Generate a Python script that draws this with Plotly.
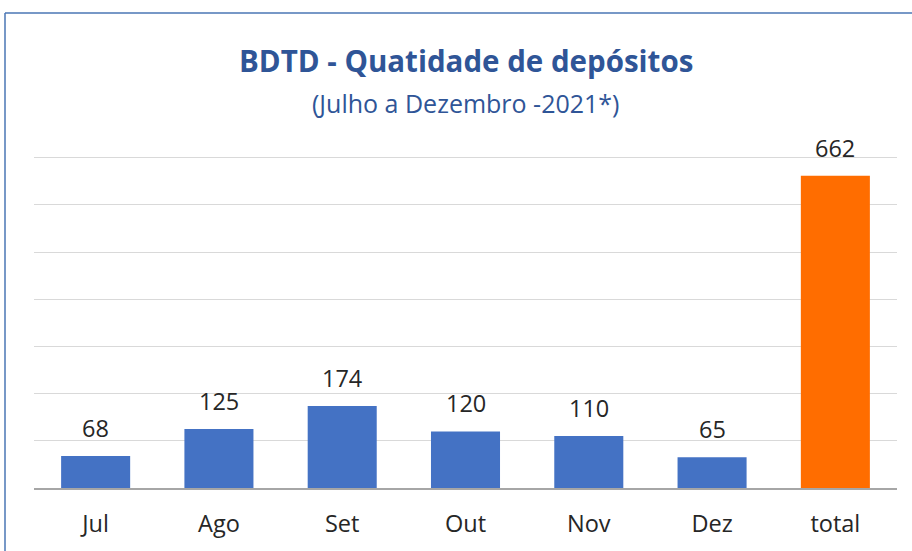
import plotly.graph_objects as go

categories = ["Jul", "Ago", "Set", "Out", "Nov", "Dez", "total"]
values = [68, 125, 174, 120, 110, 65, 662]
colors = ["#4472C4"] * 6 + ["#FF6D00"]

FONT = "Open Sans, Lato, sans-serif"

fig = go.Figure(go.Bar(
    x=categories, y=values, marker=dict(color=colors, line=dict(width=0)),
    textposition="none", hoverinfo="x+y",
))

label_annotations = [
    dict(x=c, y=v, xref="x", yref="y", text=str(v), showarrow=False,
         yanchor="middle", yshift=28,
         font=dict(family=FONT, size=23.5, color="#262626"))
    for c, v in zip(categories, values)
]

fig.update_layout(
    width=912, height=551,
    margin=dict(l=34, r=15, t=153, b=63),
    paper_bgcolor="white", plot_bgcolor="white",
    bargap=0.44,
    showlegend=False,
    font=dict(family=FONT),
    xaxis=dict(showgrid=False, showline=True, linecolor="#A6A6A6", linewidth=1.5,
               tickfont=dict(size=23.5, color="#262626"), ticks="", ticklabelstandoff=14),
    yaxis=dict(range=[0, 710], tickvals=[100, 200, 300, 400, 500, 600, 700],
               showgrid=True, gridcolor="#D9D9D9",
               gridwidth=1, showticklabels=False, zeroline=False, showline=False),
    annotations=label_annotations + [
        dict(text="<b>BDTD - Quatidade de depósitos</b>", xref="paper", yref="paper",
             x=0.5, y=1.0, yshift=93, showarrow=False,
             font=dict(family=FONT, size=29.5, color="#2F5597"), yanchor="middle"),
        dict(text="(Julho a Dezembro -2021*)", xref="paper", yref="paper",
             x=0.5, y=1.0, yshift=50, showarrow=False,
             font=dict(family=FONT, size=25, color="#2F5597"), yanchor="middle"),
    ],
    shapes=[
        dict(type="line", xref="paper", yref="paper", x0=-0.0336, x1=1.1, y0=1.418, y1=1.418,
             line=dict(color="#4A76B5", width=1.5)),
        dict(type="line", xref="paper", yref="paper", x0=-0.0336, x1=-0.0336, y0=1.418, y1=-0.3,
             line=dict(color="#4A76B5", width=1.5)),
    ],
)

fig.write_html("out.html", config={"displayModeBar": False},
               post_script="document.body.style.margin='0';document.body.style.overflow='hidden';")
